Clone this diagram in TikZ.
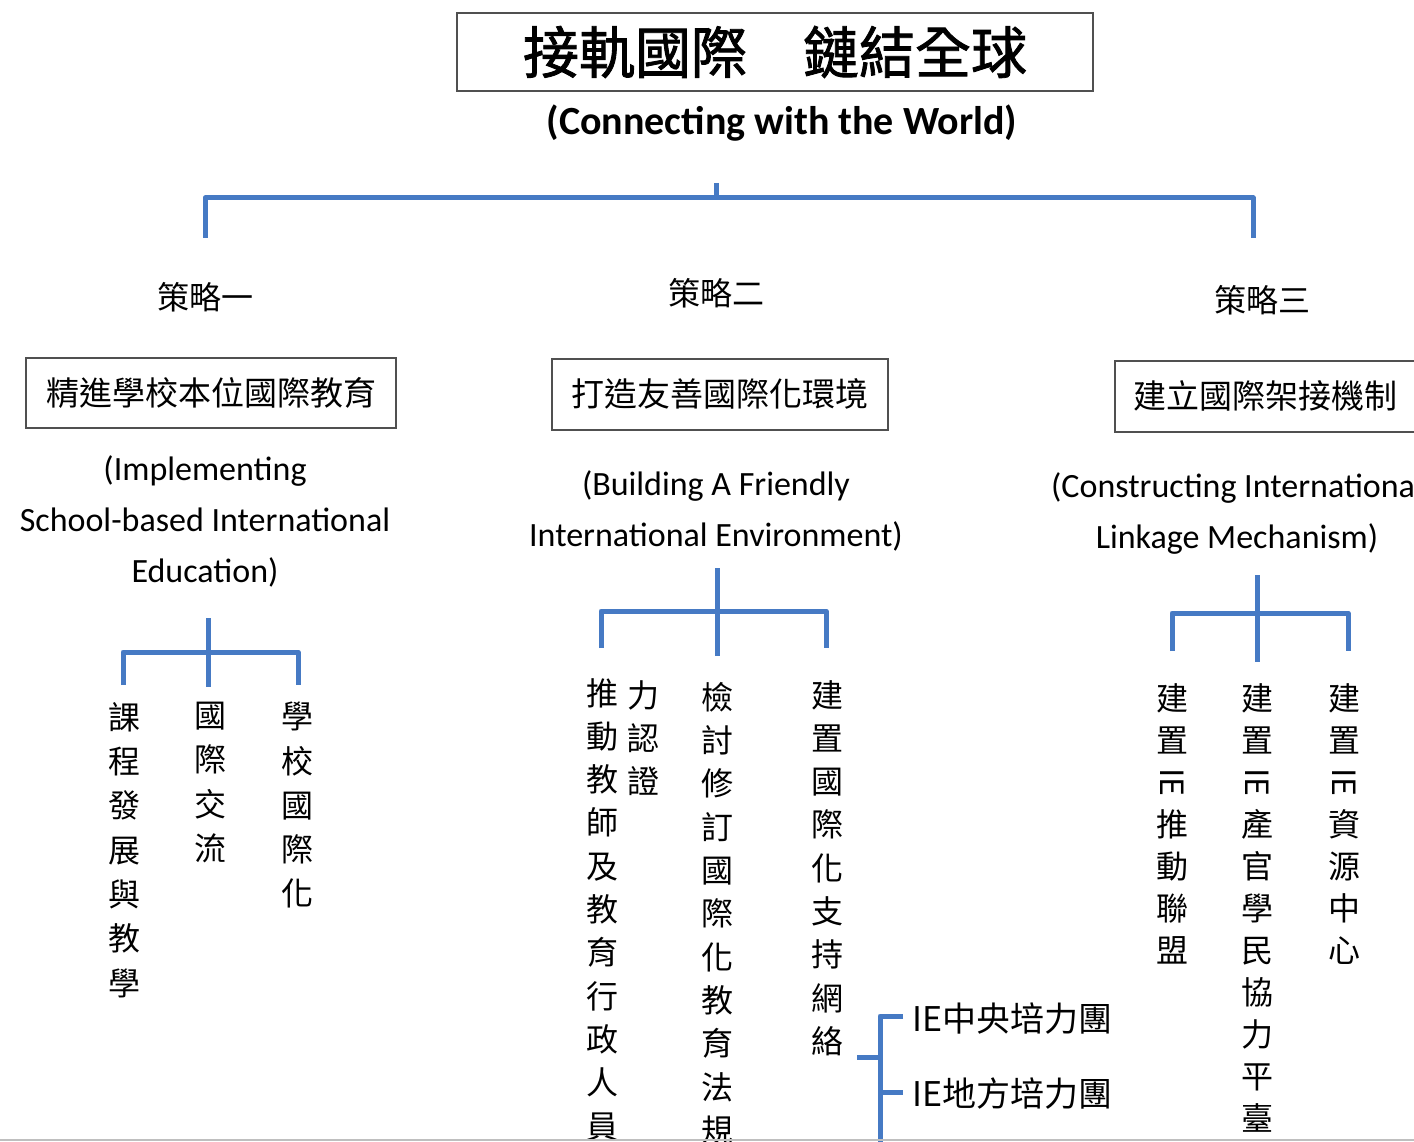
\documentclass[tikz,border=0pt]{standalone}
\usepackage{fontspec}
\usepackage{graphicx}
\newfontfamily\cjk{Noto Sans CJK TC}
\newfontfamily\cjkheavy{Noto Sans CJK TC}[FakeBold=1.5]
\newfontfamily\lat{Carlito}
\definecolor{treeblue}{RGB}{70,122,196}
\definecolor{boxgray}{RGB}{80,80,80}
\newcommand\rIE{\rotatebox[origin=c]{-90}{IE}}
\begin{document}
\begin{tikzpicture}[x=1pt,y=-1pt,
  branch/.style={draw=treeblue, line width=5pt, line join=round},
  framebox/.style={draw=boxgray, line width=2pt, inner sep=0pt},
  titlefont/.style={font=\cjkheavy\fontsize{56}{60}\selectfont},
  stratfont/.style={font=\cjk\fontsize{33}{40}\selectfont},
  lbl/.style={font=\cjk\fontsize{32}{40}\selectfont, inner sep=0pt},
  eng/.style={font=\lat\fontsize{34}{51}\selectfont, align=center, inner sep=0pt},
  vcolA/.style={font=\cjk\fontsize{32}{44.3}\selectfont, align=center, inner sep=0pt, anchor=north},
  vcolB/.style={font=\cjk\fontsize{32}{43.3}\selectfont, align=center, inner sep=0pt, anchor=north},
  vcolC/.style={font=\cjk\fontsize{32}{42}\selectfont, align=center, inner sep=0pt, anchor=north},
  leaf/.style={font=\cjk\fontsize{34}{40}\selectfont, inner sep=0pt, anchor=west}
]
\useasboundingbox (0,0) rectangle (1414,1142);
\clip (0,0) rectangle (1414,1142);

% title
\node[framebox, titlefont, minimum width=636pt, minimum height=78pt] (title) at (775,52) {接軌國際　鏈結全球};
\node[font=\lat\bfseries\fontsize{40}{44}\selectfont, inner sep=0pt] (sub) at (782,123) {(Connecting with the World)};

% top bracket
\coordinate (rootA) at (716,183);
\coordinate (rootB) at (716,198);
\coordinate (legL) at (205,238);
\coordinate (legR) at (1253,238);
\draw[branch] (rootA) -- (rootB);
\draw[branch] (legL) -- (205,198) -- (1253,198) -- (legR);

% strategy labels
\node[lbl] (s1) at (205,297) {策略一};
\node[lbl] (s2) at (716,293) {策略二};
\node[lbl] (s3) at (1262,300) {策略三};

% strategy boxes
\node[framebox, stratfont, minimum width=370pt, minimum height=70pt] (b1) at (211,393) {精進學校本位國際教育};
\node[framebox, stratfont, minimum width=336pt, minimum height=71pt] (b2) at (720,394) {打造友善國際化環境};
\node[framebox, stratfont, minimum width=305pt, minimum height=71pt, text width=305pt, align=center] (b3) at (1267,396) {\hspace*{-4pt}建立國際架接機制};

% english
\node[eng] (e1) at (205,521) {(Implementing\\School-based International\\Education)};
\node[eng] (e2) at (716,511) {(Building A Friendly\\International Environment)};
\node[eng] (e3) at (1237,513) {(Constructing International\\Linkage Mechanism)};

% subtree 1
\coordinate (t1top) at (208,618);
\coordinate (t1mid) at (208,687);
\coordinate (t1l) at (123,685);
\coordinate (t1r) at (298,685);
\draw[branch] (t1top) -- (t1mid);
\draw[branch] (t1l) -- (123,652) -- (298,652) -- (t1r);
\node[vcolA] (c11) at (124,702) {課\\程\\發\\展\\與\\教\\學};
\node[vcolA] (c12) at (210,702) {國\\際\\交\\流};
\node[vcolA] (c13) at (297,702) {學\\校\\國\\際\\化};

% subtree 2
\coordinate (t2top) at (717,568);
\coordinate (t2mid) at (717,656);
\coordinate (t2l) at (601,648);
\coordinate (t2r) at (826,648);
\draw[branch] (t2top) -- (t2mid);
\draw[branch] (t2l) -- (601,611) -- (826,611) -- (t2r);
\node[vcolB] (c21) at (602,678) {推\\動\\教\\師\\及\\教\\育\\行\\政\\人\\員};
\node[vcolB] (c22) at (643,680) {力\\認\\證};
\node[vcolB] (c23) at (717,682) {檢\\討\\修\\訂\\國\\際\\化\\教\\育\\法\\規};
\node[vcolB] (c24) at (827,680) {建\\置\\國\\際\\化\\支\\持\\網\\絡};

% sub-subtree
\coordinate (ssA) at (857,1057);
\coordinate (ssB) at (880,1057);
\coordinate (ssTop) at (880,1016);
\coordinate (ssBot) at (880,1150);
\coordinate (ss1) at (903,1016);
\coordinate (ss2) at (903,1092);
\draw[branch] (ssA) -- (ssB);
\draw[branch] (ss1) -- (ssTop) -- (ssBot);
\draw[branch] (880,1092) -- (ss2);
\node[leaf] (l1) at (912,1019) {IE中央培力團};
\node[leaf] (l2) at (912,1094) {IE地方培力團};

% subtree 3
\coordinate (t3top) at (1257,575);
\coordinate (t3mid) at (1257,662);
\coordinate (t3l) at (1172,651);
\coordinate (t3r) at (1348,651);
\draw[branch] (t3top) -- (t3mid);
\draw[branch] (t3l) -- (1172,613) -- (1348,613) -- (t3r);
\node[vcolC] (c31) at (1172,683) {建\\置\\\rIE\\推\\動\\聯\\盟};
\node[vcolC] (c32) at (1257,683) {建\\置\\\rIE\\產\\官\\學\\民\\協\\力\\平\\臺};
\node[vcolC] (c33) at (1344,683) {建\\置\\\rIE\\資\\源\\中\\心};

% bottom edge line
\coordinate (botL) at (0,1140);
\coordinate (botR) at (1414,1140);
\draw[black!25, line width=1.5pt] (botL) -- (botR);
\end{tikzpicture}
\end{document}
